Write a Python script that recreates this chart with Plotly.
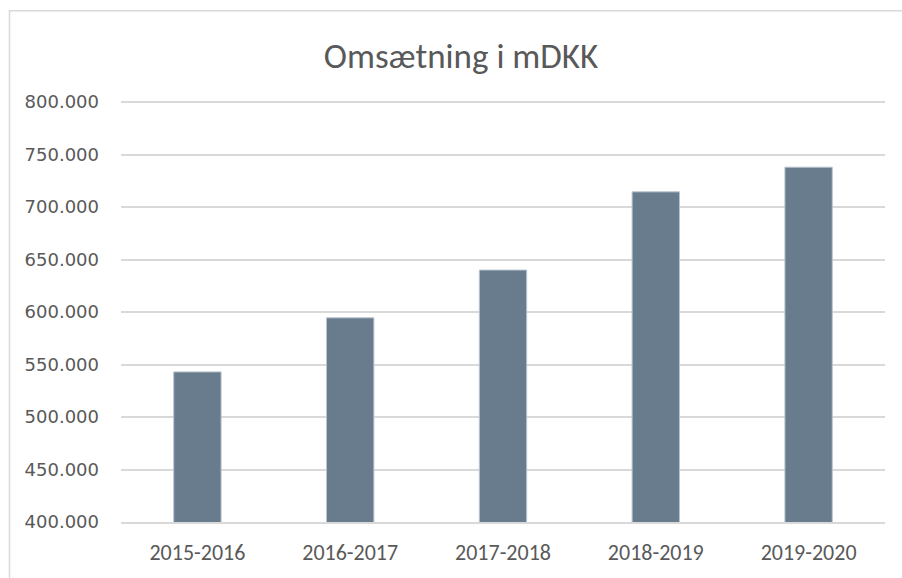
import plotly.graph_objects as go

categories = ["2015-2016", "2016-2017", "2017-2018", "2018-2019", "2019-2020"]
values = [543000, 594500, 640000, 714500, 738000]
tick_vals = [400000, 450000, 500000, 550000, 600000, 650000, 700000, 750000, 800000]
tick_text = ["400.000", "450.000", "500.000", "550.000", "600.000", "650.000", "700.000", "750.000", "800.000"]

fig = go.Figure()
fig.add_trace(go.Bar(
    x=categories, y=values,
    marker=dict(color="#687C8E", line=dict(color="#B8C4CE", width=1)),
))

W, H = 902, 578
EXTRA = 2000  # small headroom so the 800.000 gridline is not clipped
SCALE = 425 / 400000
L, R, B = 121, 17, 51
T = 102 - EXTRA * SCALE
pw, ph = W - L - R, H - T - B

fig.update_layout(
    width=W, height=H,
    margin=dict(l=L, r=R, t=T, b=B),
    paper_bgcolor="white", plot_bgcolor="white",
    bargap=0.69,
    showlegend=False,
    title=dict(text="Omsætning i mDKK", x=461 / W, xref="container",
               xanchor="center", y=1 - 56 / H, yanchor="middle",
               font=dict(family="Carlito, Liberation Sans Narrow, Open Sans, sans-serif", size=35, color="#595959")),
    xaxis=dict(showgrid=False, showline=True, linecolor="#D9D9D9", linewidth=1.5, ticks="",
               tickfont=dict(family="Carlito, Liberation Sans Narrow, Open Sans, sans-serif", size=22, color="#595959"),
               ticklabelstandoff=10),
    yaxis=dict(range=[400000, 800000 + EXTRA], tickvals=tick_vals, ticktext=tick_text,
               showgrid=True, gridcolor="#D9D9D9", gridwidth=1.5, zeroline=False, showline=False, ticks="",
               tickfont=dict(family="DejaVu Sans", size=18, color="#595959"),
               ticklabelstandoff=21),
    shapes=[dict(type="rect", xref="paper", yref="paper",
                 x0=(9.5 - L) / pw, x1=(W + 12 - L) / pw,
                 y0=-(B + 12) / ph, y1=(H - B - 9.5) / ph,
                 line=dict(color="#D9D9D9", width=1.5), fillcolor="rgba(0,0,0,0)", layer="below")],
)

fig.write_html("out.html", config={"displayModeBar": False},
               post_script="document.body.style.margin='0';document.body.style.overflow='hidden';")
